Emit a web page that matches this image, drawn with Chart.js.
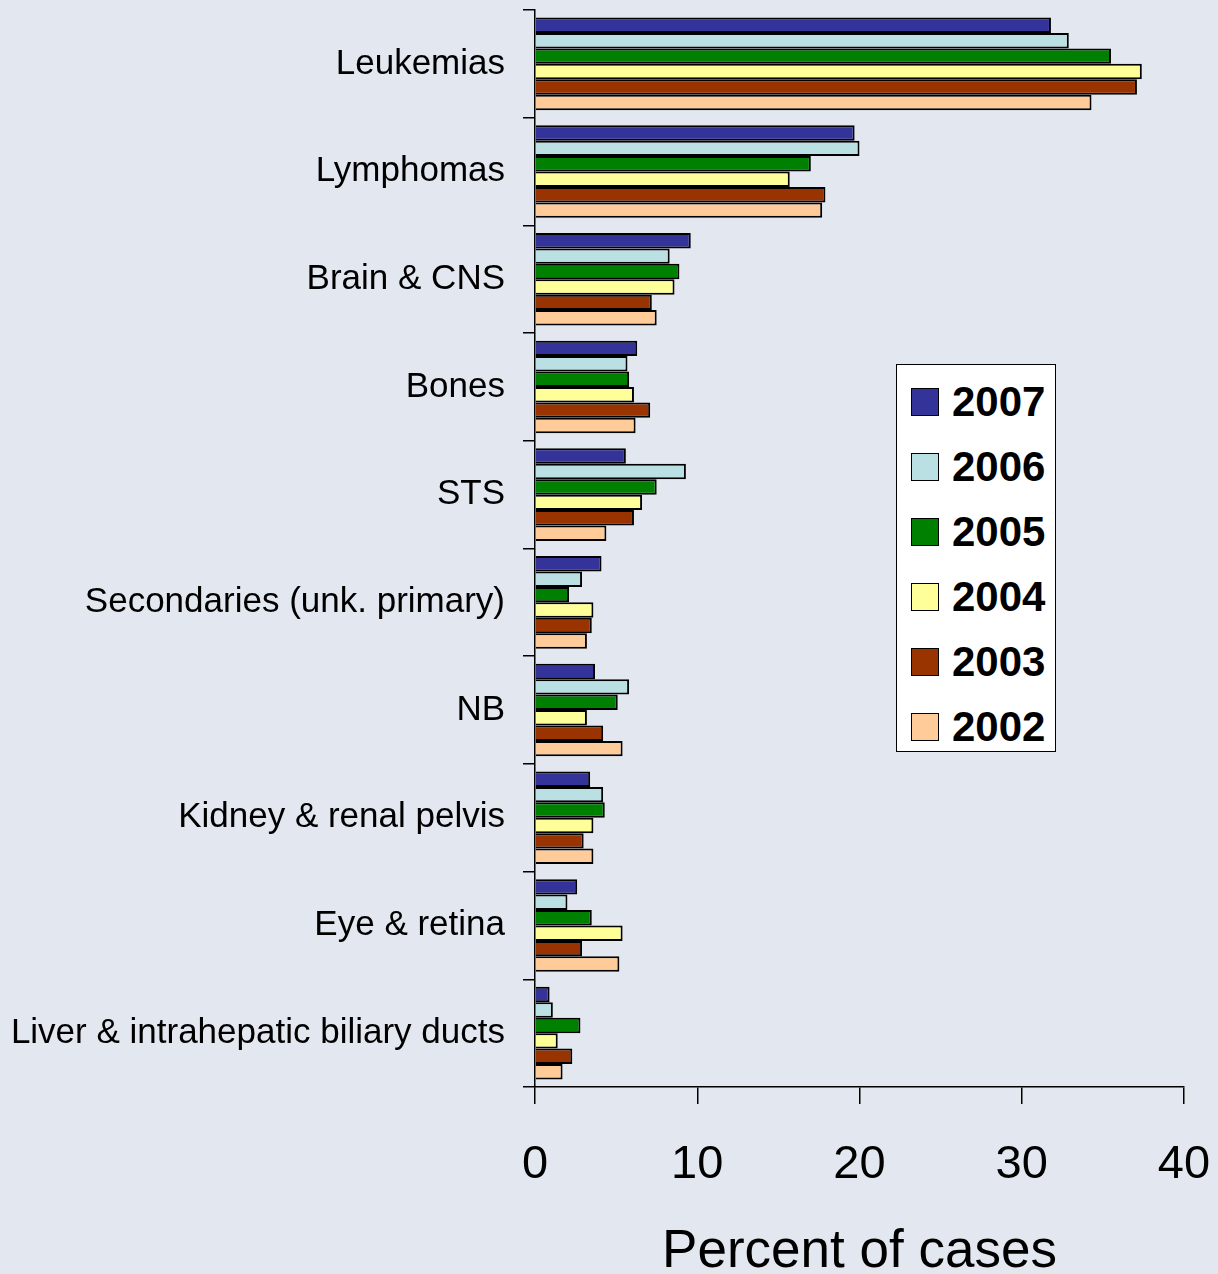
<!DOCTYPE html>
<html>
<head>
<meta charset="utf-8">
<script src="https://cdn.jsdelivr.net/npm/chart.js@4"></script>
<style>
  html, body { margin: 0; padding: 0; background: #e3e7ef; }
  .wrap { position: relative; width: 1218px; height: 1274px; }
  canvas { display: block; }
  .legend {
    position: absolute; left: 896px; top: 364px; width: 158px; height: 386px;
    background: #fff; border: 1.5px solid #000;
    font-family: "Liberation Sans", Arial, sans-serif; font-weight: bold; font-size: 42px;
  }
  .legend .item { position: absolute; left: 14px; height: 40px; display: flex; align-items: center; }
  .legend .box { width: 26px; height: 26px; border: 1.5px solid #000; margin-right: 13px; }
</style>
</head>
<body>
<div class="wrap">
  <canvas id="chart" width="1218" height="1274"></canvas>
  <div class="legend" id="legend"></div>
</div>
<script>
let categories = ["Leukemias", "Lymphomas", "Brain & CNS", "Bones", "STS", "Secondaries (unk. primary)", "NB", "Kidney & renal pelvis", "Eye & retina", "Liver & intrahepatic biliary ducts"];
let years = ["2007", "2006", "2005", "2004", "2003", "2002"];
let colors = ["#333399", "#bbe0e3", "#008000", "#ffff99", "#993300", "#ffcc99"];

let y2007 = [31.8, 19.7, 9.6, 6.3, 5.6, 4.1, 3.7, 3.4, 2.6, 0.9];
let y2006 = [32.9, 20.0, 8.3, 5.7, 9.3, 2.9, 5.8, 4.2, 2.0, 1.1];
let y2005 = [35.5, 17.0, 8.9, 5.8, 7.5, 2.1, 5.1, 4.3, 3.5, 2.8];
let y2004 = [37.4, 15.7, 8.6, 6.1, 6.6, 3.6, 3.2, 3.6, 5.4, 1.4];
let y2003 = [37.1, 17.9, 7.2, 7.1, 6.1, 3.5, 4.2, 3.0, 2.9, 2.3];
let y2002 = [34.3, 17.7, 7.5, 6.2, 4.4, 3.2, 5.4, 3.6, 5.2, 1.7];
let series = [y2007, y2006, y2005, y2004, y2003, y2002];

let xTicks = [0, 10, 20, 30, 40];

let datasets = years.map((yr, i) => ({
    label: yr,
    data: series[i],
    backgroundColor: colors[i],
    borderColor: "#000",
    borderWidth: 2,
    barPercentage: 1,
    categoryPercentage: 0.86
}));

let font = "'Liberation Sans', Arial, sans-serif";

// scale paddings from labels would push the plot area, so drop them
function noPad(scale) {
    scale.paddingTop = 0;
    scale.paddingBottom = 0;
    scale.paddingLeft = 0;
    scale.paddingRight = 0;
}

let chart = new Chart(document.getElementById("chart"), {
    type: "bar",
    data: { labels: categories, datasets: datasets },
    options: {
        indexAxis: "y",
        responsive: false,
        animation: false,
        layout: { padding: { top: 10, right: 34, bottom: 0, left: 0 } },
        scales: {
            y: {
                afterFit: function(scale) { scale.width = 535; noPad(scale); },
                grid: { display: true, drawOnChartArea: false, color: "#000", lineWidth: 1.5, tickLength: 12 },
                border: { color: "#000", width: 1.5 },
                ticks: { color: "#000", padding: 18, font: { family: font, size: 35 } }
            },
            x: {
                min: 0,
                max: 40,
                afterFit: function(scale) { scale.height = 187; noPad(scale); },
                afterBuildTicks: function(scale) { scale.ticks = xTicks.map(v => ({ value: v })); },
                grid: { display: true, drawOnChartArea: false, color: "#000", lineWidth: 1.5, tickLength: 17 },
                border: { color: "#000", width: 1.5 },
                ticks: { color: "#000", padding: 33, font: { family: font, size: 47 } },
                title: {
                    display: true,
                    text: "Percent of cases",
                    color: "#000",
                    padding: 0,
                    font: { family: font, size: 53, lineHeight: 0.8 }
                }
            }
        },
        plugins: {
            legend: { display: false },
            tooltip: { enabled: false }
        }
    }
});

let legend = document.getElementById("legend");
chart.data.datasets.forEach((ds, i) => {
    let item = document.createElement("div");
    item.classList.add("item");
    item.style.top = (17 + i * 65) + "px";
    item.innerHTML = `<span class="box" style="background:${ds.backgroundColor}"></span><span>${ds.label}</span>`;
    legend.appendChild(item);
});
</script>
</body>
</html>
